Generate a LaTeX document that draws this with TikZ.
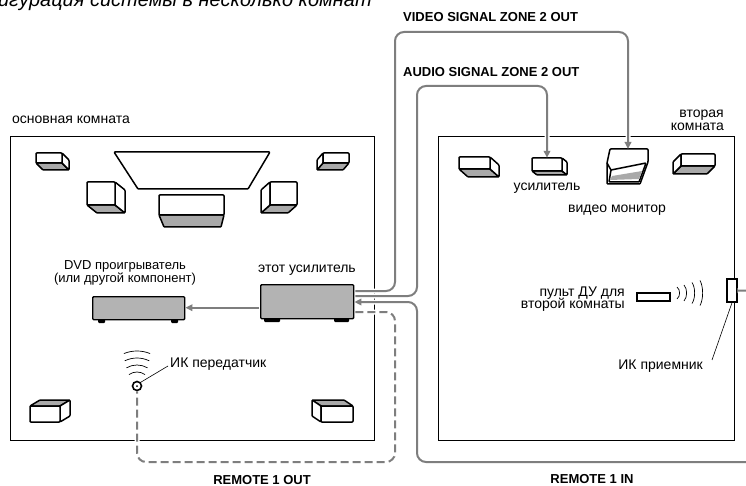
\documentclass[tikz,border=0pt]{standalone}
\usepackage{fontspec}
\setmainfont{Liberation Sans}
\usetikzlibrary{arrows.meta,calc}
\definecolor{cablegray}{HTML}{7E7E7E}
\definecolor{boxgray}{HTML}{B3B3B3}
\definecolor{facegray}{HTML}{A9A9A9}

% 3D box: front top-left (#1,#2), size #3 x #4, depth (#5,#6),
% #7 = row of the shaded face edge (0 or #4), #8 = column of the side face edge (0 or #3)
\newcommand{\spkbox}[8]{%
  \filldraw[spkline, fill=facegray] (#1,{#2+#7}) -- ++(#3,0) -- ++(#5,#6) -- ++({-1*(#3)},0) -- cycle;
  \filldraw[spkline, fill=white] ({#1+#8},#2) -- ++(#5,#6) -- ++(0,#4) -- ++({-1*(#5)},{-1*(#6)}) -- cycle;
  \filldraw[spkline, fill=white] (#1,#2) rectangle ++(#3,#4);
}

\begin{document}
\begin{tikzpicture}[x=1pt,y=-1pt,
  every node/.style={font=\fontsize{14}{14}\selectfont, inner sep=0pt},
  lbl/.style={font=\fontsize{14}{14}\selectfont},
  caplbl/.style={font=\bfseries\fontsize{13}{13}\selectfont},
  room/.style={draw=black, line width=1pt},
  spkline/.style={draw=black, line width=1.5pt, line join=round, rounded corners=0.8pt},
  devbox/.style={draw=black, fill=boxgray, line width=1.4pt, rounded corners=1pt, anchor=north west},
  foot/.style={fill=black, rounded corners=1pt},
  cable/.style={draw=cablegray, line width=2pt, rounded corners=9pt,
    preaction={draw=white, line width=5pt, solid, -, shorten >=5pt}},
  tip/.style={-{Triangle[length=7pt,width=6.5pt]}},
  pointer/.style={draw=black, line width=0.6pt},
  wave/.style={draw=black, line width=0.7pt},
]
\useasboundingbox (0,0) rectangle (746,486);
\begin{scope}
\clip (0,0) rectangle (746,486);

% heading, cut by the page top
\node[anchor=base east, font=\itshape\fontsize{20}{20}\selectfont] (title) at (372,7) {Конфигурация системы в несколько комнат};

% rooms
\draw[room] (10,137) rectangle (374,440);
\draw[room] (438,137) rectangle (734,440);
\node[lbl, anchor=west] (mainlbl) at (12,120) {основная комната};
\node[lbl, anchor=east, align=right] (zonelbl) at (724,120) {вторая\\[-1pt]комната};

% ---- main room ----
% screen
\filldraw[spkline, fill=white] (114,152) -- (270,152) -- (248,189) -- (138,189) -- cycle;
% speakers
\spkbox{36}{153}{26}{10}{7}{7}{10}{26}
\spkbox{323}{153}{26}{10}{-6}{7}{10}{0}
\spkbox{87}{182}{28}{23}{10}{8}{23}{28}
\spkbox{270}{182}{27}{23}{-9}{8}{23}{0}
\filldraw[spkline, fill=facegray] (159,215) -- (224,215) -- (221,227) -- (164,227) -- cycle;
\filldraw[spkline, fill=white] (159,195) rectangle (224,215);
\spkbox{30}{406}{30}{16}{10}{-6}{0}{30}
\spkbox{321}{406}{32}{16}{-9}{-6}{0}{0}

% DVD player and this receiver
\fill[foot] (98,316) rectangle (105,323);
\fill[foot] (171,316) rectangle (178,323);
\node[devbox, minimum width=92pt, minimum height=23pt] (dvd) at (92,296) {};
\fill[foot] (264,315) rectangle (280,322);
\fill[foot] (334,315) rectangle (349,322);
\node[devbox, minimum width=93pt, minimum height=34pt] (amp) at (260,284) {};
\node[align=center, font=\fontsize{13}{12.5}\selectfont] (dvdlbl) at (125,273) {DVD проигрыватель\\(или другой компонент)};
\node[lbl] (amplbl) at (307,270) {этот усилитель};

% IR transmitter
\node[circle, draw=black, line width=1.6pt, fill=white, minimum size=9pt] (irtx) at (137,386) {};
\fill (irtx.center) circle (1pt);
\foreach \r/\a in {14/35, 21/30, 28/26, 35/22}
  \draw[wave] ($(irtx.center)+({270-\a}:\r)$) arc[start angle={270-\a}, end angle={270+\a}, radius=\r];
\node[lbl, anchor=west] (irtxlbl) at (170,364) {ИК передатчик};
\draw[pointer] (irtx.north east) -- ($(irtxlbl.west)+(-2,2)$);

% ---- second room ----
\spkbox{459}{157}{31}{12}{9}{8}{12}{31}
\spkbox{532}{158}{30}{13}{5}{4}{13}{30}
\node[minimum width=30pt, minimum height=13pt] (zamp) at (547,164.5) {};
\node[lbl] (zamplbl) at (547,188) {усилитель};
% video monitor
\filldraw[spkline, fill=white] (610,149) -- (648,149) -- (648,162) -- (640,184) -- (607,184) -- (607,163) -- cycle;
\filldraw[spkline, fill=white] (611,170) -- (646,163) -- (639,182) -- (609,182) -- cycle;
\fill[facegray] (612,176) -- (642,171) -- (639,179) -- (610,180) -- cycle;
\draw[spkline] (607,163) -- (611,170);
\coordinate (montop) at (628,149);
\node[lbl] (monlbl) at (617,210) {видео монитор};
\spkbox{681}{154}{34}{12}{-8}{8}{12}{0}

% zone remote and IR receiver
\node[draw=black, line width=1.6pt, fill=white, minimum width=33pt, minimum height=8pt] (remote) at (653.5,297) {};
\foreach \x/\h in {677/6, 684/8, 692/10.5, 700/12.5}
  \draw[wave] (\x,293-\h) .. controls (\x+3.5,293-\h/2) and (\x+3.5,293+\h/2) .. (\x,293+\h);
\node[lbl, anchor=east, align=right] (remotelbl) at (625,299) {пульт ДУ для\\[-1.5pt]второй комнаты};
\node[draw=black, line width=1.4pt, fill=white, minimum width=10pt, minimum height=23pt] (irrx) at (732,290.5) {};
\node[lbl, anchor=east] (irrxlbl) at (703,366) {ИК приемник};
\draw[pointer] (irrx.south) -- ($(irrxlbl.east)+(9,-6)$);

% ---- cables ----
\coordinate (ampvid) at ($(amp.north east)+(1,7)$);
\coordinate (ampaud) at ($(amp.north east)+(1,12)$);
\coordinate (ampin)  at ($(amp.north east)+(0,18)$);
\coordinate (ampout) at ($(amp.north east)+(1,28)$);
\coordinate (ampdvd) at ($(amp.west)+(-1,6)$);

\draw[cable, tip] (ampvid) -- (395,291) -- (395,32) -- (628,32) -- (montop);
\draw[cable, tip] (ampaud) -- (417,296) -- (417,86) -- (547,86) -- (zamp.north);
\draw[cable, tip] (irrx.east) -- (770,290.5) -- (770,462) -- (417,462) -- (417,302) -- (ampin);
\draw[cable, dashed, dash pattern=on 8pt off 4pt] (ampout) -- (395,312) -- (395,462) -- (137,462) -- (irtx.south);
\draw[cable, tip] (ampdvd) -- (ampdvd -| dvd.east);

% cable captions
\node[caplbl, anchor=west] (vidlbl) at (403,17) {VIDEO SIGNAL ZONE 2 OUT};
\node[caplbl, anchor=west] (audlbl) at (403,72) {AUDIO SIGNAL ZONE 2 OUT};
\node[caplbl] (outlbl) at (262,480) {REMOTE 1 OUT};
\node[caplbl] (inlbl) at (592,479) {REMOTE 1 IN};
\end{scope}
\end{tikzpicture}
\end{document}
